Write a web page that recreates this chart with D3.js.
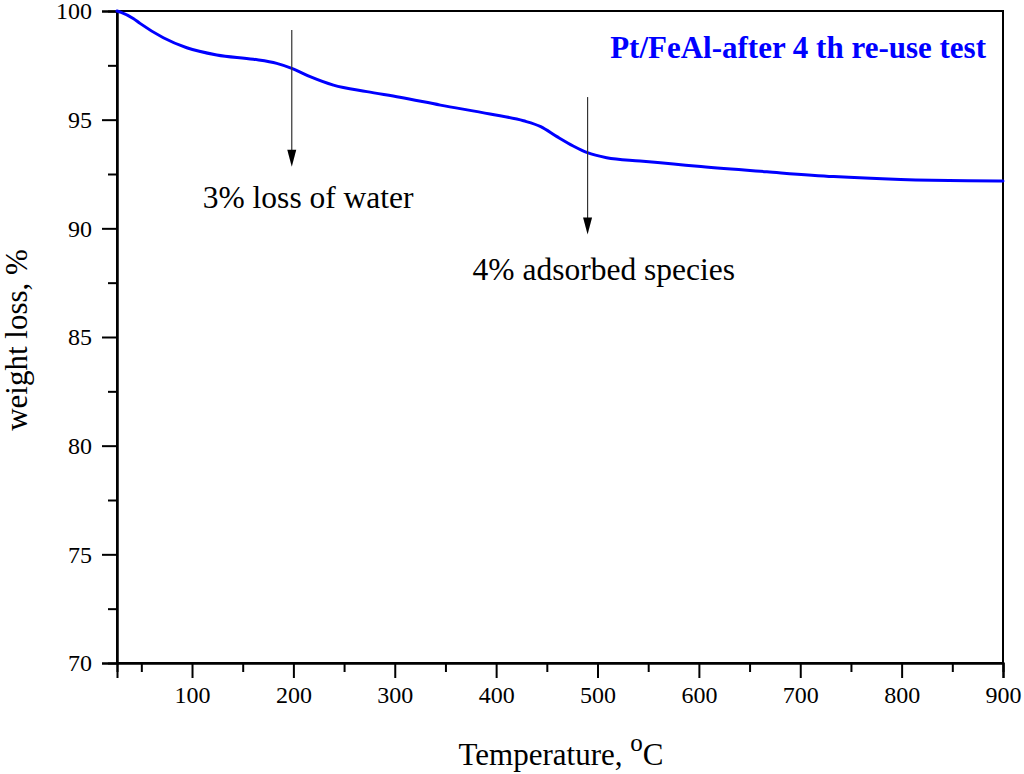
<!DOCTYPE html>
<html>
<head>
<meta charset="utf-8">
<script src="https://cdn.jsdelivr.net/npm/d3@7"></script>
<style>
  html, body { margin: 0; padding: 0; background: #fff; }
  svg { display: block; }
</style>
</head>
<body>
<svg id="chart" width="1024" height="774"></svg>
<script>
// ---- data ----
const temperature = [26, 30, 42, 48.7, 71.7, 94.8, 124.4, 160.6, 183.6, 198.4, 216.5, 239.5, 272.5, 305, 345, 394, 427, 444, 460, 476, 490, 509, 542, 575, 602, 667, 733, 799, 865, 900];
const weight      = [100, 99.94, 99.66, 99.43, 98.77, 98.31, 97.98, 97.78, 97.59, 97.36, 96.98, 96.59, 96.29, 96.03, 95.67, 95.26, 94.95, 94.68, 94.22, 93.79, 93.48, 93.25, 93.10, 92.96, 92.84, 92.60, 92.38, 92.25, 92.19, 92.18];

const xTicks = [100, 200, 300, 400, 500, 600, 700, 800, 900];
const xMinorTicks = [50, 150, 250, 350, 450, 550, 650, 750, 850];
const yTicks = [70, 75, 80, 85, 90, 95, 100];
const yMinorTicks = [72.5, 77.5, 82.5, 87.5, 92.5, 97.5];

const seriesLabel = "Pt/FeAl-after 4 th re-use test";
const annotations = [
  { text: "3% loss of water",    x: 198.4, yFrom: 99.13, yTo: 92.83, tx: 110.6, ty: 90.92 },
  { text: "4% adsorbed species", x: 490.2, yFrom: 96.04, yTo: 89.72, tx: 376.8, ty: 87.62 }
];

// ---- layout ----
const FONT = "'Liberation Serif', 'Times New Roman', Times, serif";
const svg = d3.select("#chart");
const L = 117, R = 1003, T = 11, B = 663;

const x = d3.scaleLinear().domain([26, 900]).range([L, R]);
const y = d3.scaleLinear().domain([70, 100]).range([B, T]);

// frame
svg.append("rect")
  .attr("x", L).attr("y", T).attr("width", R - L).attr("height", B - T)
  .attr("fill", "none").attr("stroke", "#000").attr("stroke-width", 2);

// x axis
const gx = svg.append("g").attr("transform", `translate(0,${B})`);
gx.call(d3.axisBottom(x).tickValues(xTicks).tickSize(15).tickPadding(8).tickFormat(d3.format("d")));
gx.append("g").call(d3.axisBottom(x).tickValues(xMinorTicks).tickSize(9).tickFormat(""));

// y axis
const gy = svg.append("g").attr("transform", `translate(${L},0)`);
gy.call(d3.axisLeft(y).tickValues(yTicks).tickSize(15).tickPadding(10).tickFormat(d3.format("d")));
gy.append("g").call(d3.axisLeft(y).tickValues(yMinorTicks).tickSize(9).tickFormat(""));

[gx, gy].forEach(g => {
  g.selectAll(".domain").attr("stroke-width", 2);
  g.selectAll(".tick line").attr("stroke-width", 2);
  g.selectAll(".tick text")
    .style("font-family", FONT).style("font-size", "24px").attr("fill", "#000");
});

// axis titles
const xt = svg.append("text")
  .attr("x", (L + R) / 2 + 1).attr("y", 765)
  .attr("text-anchor", "middle")
  .style("font-family", FONT).style("font-size", "31px").attr("fill", "#000");
xt.append("tspan").text("Temperature, ");
xt.append("tspan").style("font-size", "25px").attr("dy", -14).text("o");
xt.append("tspan").attr("dy", 14).text("C");

svg.append("text")
  .attr("transform", `translate(27,${(T + B) / 2 + 3}) rotate(-90)`)
  .attr("text-anchor", "middle")
  .style("font-family", FONT).style("font-size", "31px").attr("fill", "#000")
  .text("weight loss, %");

// curve
const data = temperature.map((t, i) => ({ t, w: weight[i] }));
svg.append("path")
  .datum(data)
  .attr("fill", "none").attr("stroke", "#0000ff").attr("stroke-width", 3)
  .attr("stroke-linejoin", "round").attr("stroke-linecap", "round")
  .attr("d", d3.line().x(d => x(d.t)).y(d => y(d.w)).curve(d3.curveMonotoneX));

// series label
svg.append("text")
  .attr("x", R - 17).attr("y", 58)
  .attr("text-anchor", "end")
  .style("font-family", FONT).style("font-size", "31px").style("font-weight", "bold")
  .attr("fill", "#0000ff").text(seriesLabel);

// annotations
annotations.forEach(a => {
  const x0 = x(a.x);
  const yTip = y(a.yTo);
  svg.append("line")
    .attr("x1", x0).attr("x2", x0)
    .attr("y1", y(a.yFrom)).attr("y2", yTip - 8)
    .attr("stroke", "#333").attr("stroke-width", 1.2);
  svg.append("path")
    .attr("d", d3.line()([[x0 - 4.5, yTip - 17], [x0 + 4.5, yTip - 17], [x0, yTip]]) + "Z")
    .attr("fill", "#000");
  svg.append("text")
    .attr("x", x(a.tx)).attr("y", y(a.ty))
    .style("font-family", FONT).style("font-size", "31.5px").attr("fill", "#000")
    .text(a.text);
});
</script>
</body>
</html>
